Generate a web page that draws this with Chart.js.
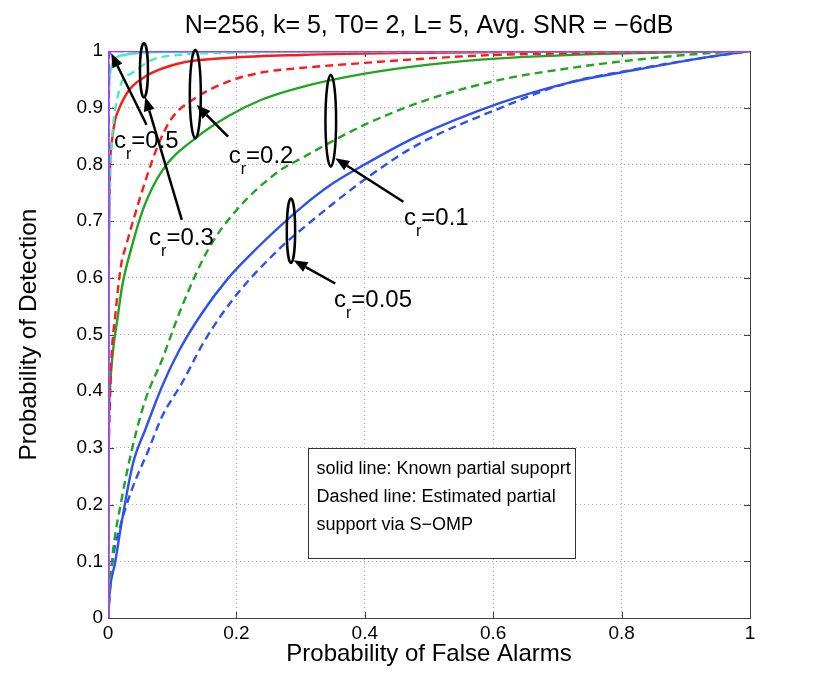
<!DOCTYPE html>
<html>
<head>
<meta charset="utf-8">
<script src="https://cdn.jsdelivr.net/npm/chart.js@4.4.1/dist/chart.umd.min.js"></script>
<style>
	html, body { margin: 0; padding: 0; background: #fff; }
	#wrap { width: 830px; height: 695px; }
</style>
</head>
<body>
<div id="wrap"><canvas id="roc"></canvas></div>
<script>
const FONT = "'Liberation Sans', Arial, Helvetica, sans-serif";

// c_r = 0.5 (purple)
const pfa05Known = [0, 0.0005, 1];
const pd05Known = [0, 1, 1];
const pfa05Est = [0, 0.001, 0.004, 1];
const pd05Est = [0, 0.99, 1, 1];

// c_r = 0.3 (aquamarine)
const pfa03Known = [0, 0.0005, 0.001, 0.002, 0.004, 0.008, 0.015, 0.025, 0.045, 0.08, 0.15, 1];
const pd03Known = [0, 0.6, 0.85, 0.94, 0.965, 0.982, 0.99, 0.993, 0.996, 0.998, 0.999, 1];
const pfa03Est = [0, 0.001, 0.003, 0.006, 0.009, 0.013, 0.021, 0.039, 0.068, 0.1, 0.2, 0.4, 1];
const pd03Est = [0, 0.5, 0.75, 0.84, 0.88, 0.908, 0.944, 0.962, 0.984, 0.992, 0.997, 0.999, 1];

// c_r = 0.2 (red)
const pfa02Known = [0, 0.0005, 0.001, 0.002, 0.003, 0.006, 0.011, 0.016, 0.032, 0.058, 0.11, 0.19, 0.3, 0.5, 0.7, 1];
const pd02Known = [0, 0.4, 0.6, 0.72, 0.79, 0.84, 0.878, 0.895, 0.93, 0.955, 0.978, 0.988, 0.993, 0.997, 0.999, 1];
const pfa02Est = [0, 0.001, 0.003, 0.006, 0.011, 0.02, 0.029, 0.039, 0.058, 0.078, 0.099, 0.136, 0.187, 0.239, 0.3, 0.4, 0.5, 0.6, 0.8, 1];
const pd02Est = [0, 0.25, 0.38, 0.47, 0.53, 0.62, 0.66, 0.7, 0.77, 0.834, 0.881, 0.917, 0.946, 0.962, 0.97, 0.979, 0.987, 0.993, 0.997, 1];

// c_r = 0.1 (green)
const pfa01Known = [0, 0.001, 0.003, 0.008, 0.015, 0.022, 0.037, 0.056, 0.085, 0.136, 0.187, 0.239, 0.3, 0.4, 0.5, 0.61, 0.77, 0.9, 1];
const pd01Known = [0, 0.3, 0.4, 0.473, 0.53, 0.585, 0.655, 0.725, 0.79, 0.846, 0.885, 0.914, 0.936, 0.96, 0.976, 0.987, 0.995, 0.998, 1];
const pfa01Est = [0, 0.003, 0.008, 0.021, 0.037, 0.058, 0.084, 0.115, 0.156, 0.203, 0.265, 0.3, 0.4, 0.5, 0.61, 0.714, 0.818, 0.922, 1];
const pd01Est = [0, 0.06, 0.12, 0.208, 0.296, 0.384, 0.455, 0.549, 0.65, 0.723, 0.787, 0.81, 0.87, 0.915, 0.949, 0.969, 0.984, 0.995, 1];

// c_r = 0.05 (blue)
const pfa005Known = [0, 0.003, 0.011, 0.021, 0.039, 0.058, 0.084, 0.11, 0.146, 0.187, 0.229, 0.3, 0.351, 0.4, 0.481, 0.61, 0.714, 0.818, 0.922, 1];
const pd005Known = [0, 0.05, 0.097, 0.167, 0.273, 0.332, 0.408, 0.47, 0.537, 0.599, 0.649, 0.723, 0.767, 0.8, 0.849, 0.908, 0.943, 0.966, 0.987, 1];
const pfa005Est = [0, 0.002, 0.006, 0.019, 0.037, 0.063, 0.084, 0.115, 0.151, 0.198, 0.265, 0.3, 0.403, 0.481, 0.61, 0.714, 0.818, 0.922, 1];
const pd005Est = [0, 0.03, 0.09, 0.161, 0.226, 0.296, 0.355, 0.414, 0.49, 0.567, 0.649, 0.684, 0.776, 0.834, 0.899, 0.943, 0.967, 0.987, 1];

const xTicks = [0, 0.2, 0.4, 0.6, 0.8, 1];
const yTicks = [0, 0.1, 0.2, 0.3, 0.4, 0.5, 0.6, 0.7, 0.8, 0.9, 1];

// annotation ellipses, arrows and labels in data units
const ellipses = [
	{ cx: 0.056, cy: 0.966, rx: 0.0062, ry: 0.048 },
	{ cx: 0.136, cy: 0.924, rx: 0.0086, ry: 0.078 },
	{ cx: 0.347, cy: 0.877, rx: 0.0083, ry: 0.081 },
	{ cx: 0.285, cy: 0.683, rx: 0.0065, ry: 0.057 },
];
const arrows = [
	{ from: [0.06, 0.87], to: [0.005, 0.996] },
	{ from: [0.115, 0.702], to: [0.058, 0.919] },
	{ from: [0.187, 0.849], to: [0.138, 0.905] },
	{ from: [0.46, 0.734], to: [0.354, 0.811] },
	{ from: [0.354, 0.59], to: [0.289, 0.631] },
];
const crLabels = [
	{ x: 0.0093, y: 0.829, value: "0.5" },
	{ x: 0.064, y: 0.658, value: "0.3" },
	{ x: 0.188, y: 0.802, value: "0.2" },
	{ x: 0.461, y: 0.693, value: "0.1" },
	{ x: 0.352, y: 0.549, value: "0.05" },
];
const noteBox = { x0: 0.311, x1: 0.728, y0: 0.106, y1: 0.299 };
const noteLines = ["solid line: Known partial supoprt", "Dashed line: Estimated partial", "support via S\u2212OMP"];

function points(xs, ys) {
	return xs.map((x, i) => ({ x, y: ys[i] }));
}

function curve(label, xs, ys, color, dashed, smooth) {
	return {
		label,
		data: points(xs, ys),
		borderColor: color,
		borderWidth: 2.4,
		borderDash: dashed ? [8, 5] : [],
		pointRadius: 0,
		fill: false,
		tension: 0,
		cubicInterpolationMode: smooth ? "monotone" : "default",
	};
}

const boxPlugin = {
	id: "matlabBox",
	beforeDatasetsDraw(chart) {
		const { ctx, chartArea: a, scales } = chart;
		ctx.save();
		ctx.strokeStyle = "#444";
		ctx.lineWidth = 1;
		ctx.beginPath();
		xTicks.forEach((t) => {
			const px = Math.round(scales.x.getPixelForValue(t)) + 0.5;
			ctx.moveTo(px, a.bottom); ctx.lineTo(px, a.bottom - 6);
			ctx.moveTo(px, a.top); ctx.lineTo(px, a.top + 6);
		});
		yTicks.forEach((t) => {
			const py = Math.round(scales.y.getPixelForValue(t)) + 0.5;
			ctx.moveTo(a.left, py); ctx.lineTo(a.left + 6, py);
			ctx.moveTo(a.right, py); ctx.lineTo(a.right - 6, py);
		});
		ctx.stroke();
		ctx.strokeRect(Math.round(a.left) + 0.5, Math.round(a.top) + 0.5, Math.round(a.right - a.left), Math.round(a.bottom - a.top));
		ctx.restore();
	},
};

const notesPlugin = {
	id: "notes",
	afterDatasetsDraw(chart) {
		const { ctx, scales } = chart;
		const X = (v) => scales.x.getPixelForValue(v);
		const Y = (v) => scales.y.getPixelForValue(v);
		const sx = X(1) - X(0);
		const sy = Y(0) - Y(1);
		ctx.save();
		ctx.strokeStyle = "#000";
		ctx.fillStyle = "#000";
		ctx.lineWidth = 2.5;

		ellipses.forEach((e) => {
			ctx.beginPath();
			ctx.ellipse(X(e.cx), Y(e.cy), e.rx * sx, e.ry * sy, 0, 0, Math.PI * 2);
			ctx.stroke();
		});

		arrows.forEach((ar) => {
			const x0 = X(ar.from[0]), y0 = Y(ar.from[1]);
			const x1 = X(ar.to[0]), y1 = Y(ar.to[1]);
			const ang = Math.atan2(y1 - y0, x1 - x0);
			const len = 14, half = 5.5;
			const bx = x1 - len * Math.cos(ang), by = y1 - len * Math.sin(ang);
			ctx.beginPath();
			ctx.moveTo(x0, y0);
			ctx.lineTo(bx, by);
			ctx.stroke();
			ctx.beginPath();
			ctx.moveTo(x1, y1);
			ctx.lineTo(bx + half * Math.sin(ang), by - half * Math.cos(ang));
			ctx.lineTo(bx - half * Math.sin(ang), by + half * Math.cos(ang));
			ctx.closePath();
			ctx.fill();
		});

		ctx.textBaseline = "alphabetic";
		ctx.textAlign = "left";
		crLabels.forEach((l) => {
			let px = X(l.x);
			const py = Y(l.y);
			ctx.font = "24px " + FONT;
			ctx.fillText("c", px, py);
			px += ctx.measureText("c").width;
			ctx.font = "16px " + FONT;
			ctx.fillText("r", px, py + 11);
			px += ctx.measureText("r").width;
			ctx.font = "24px " + FONT;
			ctx.fillText("=" + l.value, px, py);
		});

		// text box
		const bx0 = Math.round(X(noteBox.x0)) + 0.5, bx1 = Math.round(X(noteBox.x1)) + 0.5;
		const by0 = Math.round(Y(noteBox.y1)) + 0.5, by1 = Math.round(Y(noteBox.y0)) + 0.5;
		ctx.fillStyle = "#fff";
		ctx.fillRect(bx0, by0, bx1 - bx0, by1 - by0);
		ctx.lineWidth = 1;
		ctx.strokeStyle = "#333";
		ctx.strokeRect(bx0, by0, bx1 - bx0, by1 - by0);
		ctx.fillStyle = "#000";
		ctx.font = "18px " + FONT;
		noteLines.forEach((line, i) => {
			ctx.fillText(line, bx0 + 8, by0 + 25 + i * 28);
		});
		ctx.restore();
	},
};

new Chart(document.getElementById("roc"), {
	type: "line",
	data: {
		datasets: [
			curve("c_r=0.5 known", pfa05Known, pd05Known, "#a040ff", false, false),
			curve("c_r=0.5 estimated", pfa05Est, pd05Est, "#a040ff", true, false),
			curve("c_r=0.3 known", pfa03Known, pd03Known, "#40f0c0", false, true),
			curve("c_r=0.3 estimated", pfa03Est, pd03Est, "#40f0c0", true, true),
			curve("c_r=0.2 known", pfa02Known, pd02Known, "#ff1a1a", false, true),
			curve("c_r=0.2 estimated", pfa02Est, pd02Est, "#ff1a1a", true, true),
			curve("c_r=0.1 known", pfa01Known, pd01Known, "#1fa51f", false, true),
			curve("c_r=0.1 estimated", pfa01Est, pd01Est, "#1fa51f", true, true),
			curve("c_r=0.05 known", pfa005Known, pd005Known, "#2e4ff2", false, true),
			curve("c_r=0.05 estimated", pfa005Est, pd005Est, "#2e4ff2", true, true),
		],
	},
	options: {
		responsive: true,
		maintainAspectRatio: false,
		animation: false,
		layout: {
			padding: { left: 0, right: 80, top: 0, bottom: 0 },
		},
		plugins: {
			legend: { display: false },
			tooltip: { enabled: false },
			title: {
				display: true,
				fullSize: false,
				text: "N=256, k= 5, T0= 2, L= 5, Avg. SNR = \u22126dB",
				color: "#000",
				font: { family: FONT, size: 25, weight: "normal" },
				padding: { top: 11.3, bottom: 9.7 },
			},
		},
		scales: {
			x: {
				type: "linear",
				min: 0,
				max: 1,
				afterFit: (s) => { s.height = 77; },
				afterBuildTicks: (s) => { s.ticks = xTicks.map((v) => ({ value: v })); },
				ticks: {
					color: "#000",
					padding: 4,
					maxRotation: 0,
					font: { family: FONT, size: 19 },
					callback: (v) => String(+v.toFixed(1)),
				},
				grid: { color: "#b0b0b0", lineWidth: 1, drawTicks: false },
				border: { display: false, dash: [1, 3] },
				title: {
					display: true,
					text: "Probability of False Alarms",
					color: "#000",
					font: { family: FONT, size: 24 },
					padding: { top: 0, bottom: 26.2 },
				},
			},
			y: {
				type: "linear",
				min: 0,
				max: 1,
				afterFit: (s) => { s.width = 108; },
				afterBuildTicks: (s) => { s.ticks = yTicks.map((v) => ({ value: v })); },
				ticks: {
					color: "#000",
					padding: 5,
					font: { family: FONT, size: 19 },
					callback: (v) => String(+v.toFixed(1)),
				},
				grid: { color: "#b0b0b0", lineWidth: 1, drawTicks: false },
				border: { display: false, dash: [1, 3] },
				title: {
					display: true,
					text: "Probability of Detection",
					color: "#000",
					font: { family: FONT, size: 24.5 },
					padding: { top: 14.4, bottom: 0 },
				},
			},
		},
	},
	plugins: [boxPlugin, notesPlugin],
});
</script>
</body>
</html>
